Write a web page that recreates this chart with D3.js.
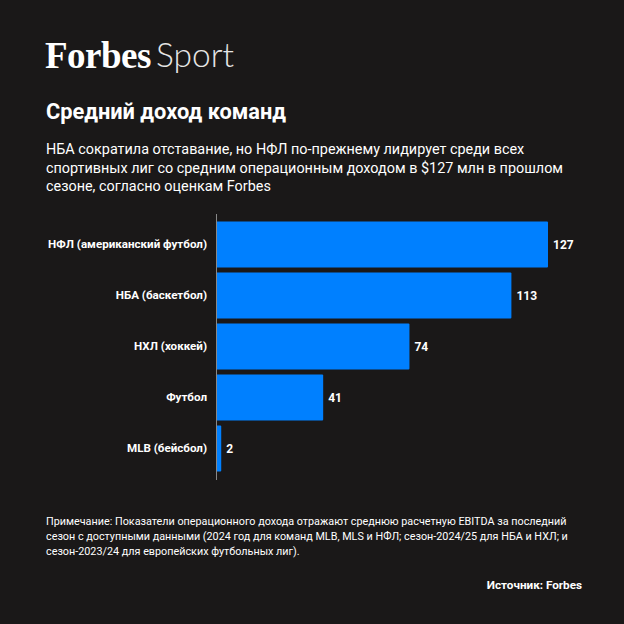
<!DOCTYPE html>
<html>
<head>
<meta charset="utf-8">
<script src="https://cdn.jsdelivr.net/npm/d3@7"></script>
<style>
  html, body { margin: 0; padding: 0; background: #1a1818; }
  svg { display: block; font-family: Roboto, "Noto Sans", sans-serif; }
</style>
</head>
<body>
<script>
// data
const leagues = ["НФЛ (американский футбол)", "НБА (баскетбол)", "НХЛ (хоккей)", "Футбол", "MLB (бейсбол)"];
const income = [127, 113, 74, 41, 2];

const subtitleLines = [
  "НБА сократила отставание, но НФЛ по-прежнему лидирует среди всех",
  "спортивных лиг со средним операционным доходом в $127 млн в прошлом",
  "сезоне, согласно оценкам Forbes"
];
const noteLines = [
  "Примечание: Показатели операционного дохода отражают среднюю расчетную EBITDA за последний",
  "сезон с доступными данными (2024 год для команд MLB, MLS и НФЛ; сезон-2024/25 для НБА и НХЛ; и",
  "сезон-2023/24 для европейских футбольных лиг)."
];

const W = 624, H = 624;
const bg = "#1a1818", blue = "#0080ff";

const svg = d3.select("body").append("svg")
  .attr("width", W)
  .attr("height", H);

svg.append("rect").attr("width", W).attr("height", H).attr("fill", bg);

// logo: serif "Forbes" + light sans "Sport"
svg.append("text")
  .attr("x", 45)
  .attr("y", 68)
  .attr("fill", "#fff")
  .attr("font-weight", "bold")
  .attr("letter-spacing", "-0.5")
  .style("font-family", "'Liberation Serif', 'DejaVu Serif', serif")
  .style("font-size", "37px")
  .text("Forbes");
svg.append("text")
  .attr("x", 156)
  .attr("y", 67)
  .attr("fill", "#e6e6e6")
  .attr("font-weight", 300)
  .style("font-family", "Lato, 'Open Sans', sans-serif")
  .style("font-size", "33.5px")
  .text("Sport");

// title
svg.append("text")
  .attr("x", 46)
  .attr("y", 119)
  .attr("fill", "#fff")
  .attr("font-weight", "bold")
  .style("font-size", "21.8px")
  .text("Средний доход команд");

svg.append("g").selectAll("text")
  .data(subtitleLines)
  .join("text")
    .attr("x", 46)
    .attr("y", (d, i) => 154 + i * 18.5)
    .attr("fill", "#fff")
    .style("font-size", "14.4px")
    .text(d => d);

// chart
const x = d3.scaleLinear([0, 127], [216, 548]);
const y = d3.scaleBand(leagues, [219, 474]).paddingInner(0.1).paddingOuter(0.05);

const bars = svg.append("g");
bars.selectAll("rect")
  .data(income)
  .join("rect")
    .attr("x", x(0))
    .attr("y", (d, i) => y(leagues[i]))
    .attr("width", d => x(d) - x(0))
    .attr("height", y.bandwidth())
    .attr("rx", 1)
    .attr("fill", blue);

bars.selectAll("text.val")
  .data(income)
  .join("text")
    .attr("class", "val")
    .attr("x", d => x(d) + 5)
    .attr("y", (d, i) => y(leagues[i]) + y.bandwidth() / 2)
    .attr("dy", "0.35em")
    .attr("fill", "#fff")
    .attr("font-weight", "bold")
    .style("font-size", "12px")
    .text(d => d);

const yAxis = svg.append("g")
  .attr("transform", `translate(${x(0)},0)`)
  .call(d3.axisLeft(y).tickSize(0).tickPadding(9));
yAxis.select(".domain")
  .attr("stroke", "#888")
  .attr("d", "M0.5,214V480");
yAxis.selectAll("text")
  .attr("fill", "#fff")
  .attr("font-weight", "bold")
  .style("font-size", "11.6px")
  .style("font-family", "Roboto, sans-serif");

// note and source
svg.append("g").selectAll("text")
  .data(noteLines)
  .join("text")
    .attr("x", 46)
    .attr("y", (d, i) => 525 + i * 15)
    .attr("fill", "#fff")
    .style("font-size", "10.8px")
    .text(d => d);

svg.append("text")
  .attr("x", 582)
  .attr("y", 589)
  .attr("text-anchor", "end")
  .attr("fill", "#fff")
  .attr("font-weight", "bold")
  .style("font-size", "11.7px")
  .text("Источник: Forbes");
</script>
</body>
</html>
